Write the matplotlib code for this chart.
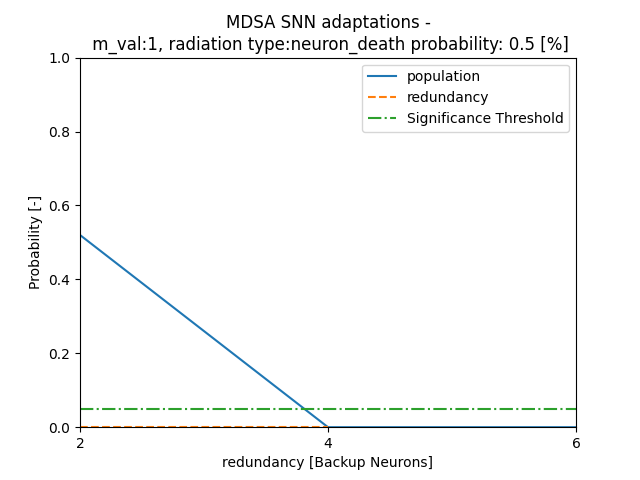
import matplotlib
matplotlib.use('Agg')
import matplotlib.pyplot as plt

redundancy = [2, 4, 6]
population = [0.52, 0.0, 0.0]
redundancy_x = [2, 4]
redundancy_prob = [0.0, 0.0]
threshold = 0.05

plt.figure(figsize=(6.4, 4.8), dpi=100)
plt.plot(redundancy, population, '-', label='population')
plt.plot(redundancy_x, redundancy_prob, '--', label='redundancy')
plt.axhline(threshold, color='tab:green', linestyle='-.', label='Significance Threshold')
plt.xlim(2, 6)
plt.ylim(0, 1)
plt.xticks(redundancy)
plt.xlabel('redundancy [Backup Neurons]')
plt.ylabel('Probability [-]')
plt.title('MDSA SNN adaptations -\n m_val:1, radiation type:neuron_death probability: 0.5 [%]')
plt.legend()
plt.savefig('out.png')
